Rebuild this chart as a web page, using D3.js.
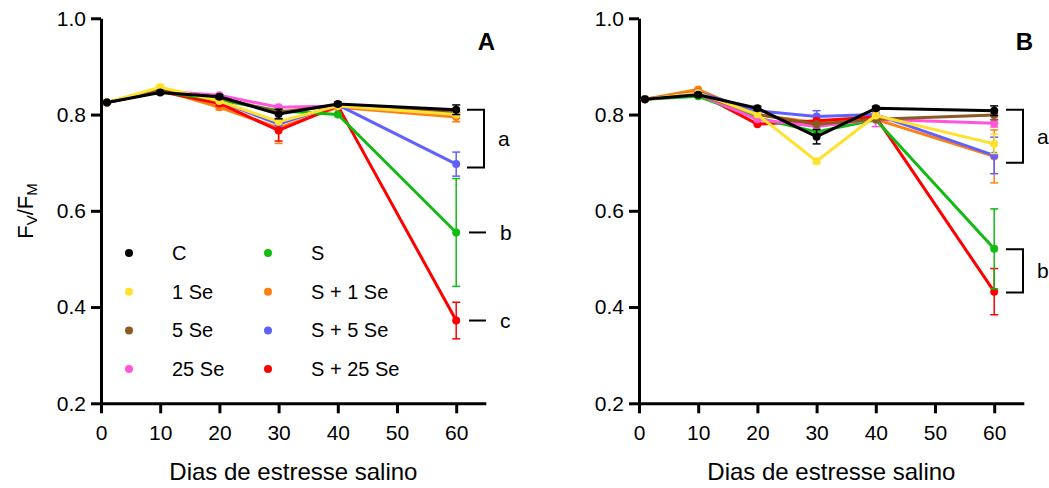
<!DOCTYPE html>
<html>
<head>
<meta charset="utf-8">
<script src="https://cdn.jsdelivr.net/npm/d3@7"></script>
<style>
  body { margin: 0; background: #fff; }
  svg { font-family: "Liberation Sans", Arial, sans-serif; }
</style>
</head>
<body>
<svg width="1049" height="488"></svg>
<script>
const days = [1, 10, 20, 30, 40, 60];
const xTicks = [0, 10, 20, 30, 40, 50, 60];
const yTicks = [0.2, 0.4, 0.6, 0.8, 1.0];

const series = ["C", "1 Se", "5 Se", "25 Se", "S", "S + 1 Se", "S + 5 Se", "S + 25 Se"];
const colors = ["#000000", "#ffe22e", "#8b5a22", "#ff55dd", "#11bb11", "#ff8010", "#6060ff", "#ff0000"];
// which series gets painted first (bottom) to last (top)
const drawOrder = [5, 6, 7, 4, 3, 2, 1, 0];

// panel A, one row per series (same order as "series")
const fvfmA = [
    [0.825, 0.846, 0.837, 0.801, 0.822, 0.810],
    [0.825, 0.857, 0.828, 0.785, 0.818, 0.800],
    [0.825, 0.850, 0.835, 0.805, 0.820, 0.805],
    [0.825, 0.849, 0.840, 0.815, 0.818, 0.800],
    [0.825, 0.848, 0.830, 0.808, 0.800, 0.555],
    [0.825, 0.852, 0.815, 0.772, 0.815, 0.795],
    [0.825, 0.850, 0.828, 0.780, 0.820, 0.697],
    [0.825, 0.848, 0.823, 0.767, 0.818, 0.372]
];
const errA = [
    [0, 0.004, 0.004, 0.010, 0.004, 0.010],
    [0, 0.004, 0, 0, 0, 0],
    [0, 0, 0, 0, 0, 0],
    [0, 0, 0, 0, 0, 0],
    [0, 0, 0, 0, 0, 0.112],
    [0, 0, 0.005, 0.032, 0, 0.010],
    [0, 0, 0, 0.012, 0, 0.025],
    [0, 0, 0.005, 0.022, 0, 0.038]
];

// panel B
const fvfmB = [
    [0.832, 0.841, 0.813, 0.754, 0.813, 0.808],
    [0.832, 0.845, 0.800, 0.703, 0.798, 0.739],
    [0.832, 0.843, 0.800, 0.780, 0.790, 0.799],
    [0.832, 0.842, 0.790, 0.775, 0.790, 0.782],
    [0.832, 0.838, 0.793, 0.764, 0.789, 0.521],
    [0.832, 0.852, 0.800, 0.783, 0.790, 0.713],
    [0.832, 0.846, 0.808, 0.796, 0.800, 0.715],
    [0.832, 0.845, 0.780, 0.787, 0.795, 0.432]
];
const errB = [
    [0, 0.004, 0.004, 0.015, 0.004, 0.010],
    [0, 0, 0, 0.005, 0, 0.020],
    [0, 0, 0, 0, 0, 0.010],
    [0, 0, 0, 0, 0.015, 0.008],
    [0, 0, 0, 0, 0, 0.083],
    [0, 0, 0, 0, 0, 0.055],
    [0, 0, 0, 0.012, 0, 0.038],
    [0, 0, 0, 0, 0, 0.048]
];

const svg = d3.select("svg");

function drawPanel(x0, values, errors, label) {
    const x = d3.scaleLinear().domain([0, 65]).range([x0, x0 + 65 * 5.92]);
    const y = d3.scaleLinear().domain([0.2, 1.0]).range([403.3, 18.3]);
    const g = svg.append("g");

    // axes
    const yAxis = g.append("g")
        .attr("transform", `translate(${x0},0)`)
        .call(d3.axisLeft(y).tickValues(yTicks).tickFormat(d3.format(".1f"))
            .tickSize(10).tickSizeOuter(0).tickPadding(5));
    const xAxis = g.append("g")
        .attr("transform", `translate(0,${y(0.2)})`)
        .call(d3.axisBottom(x).tickValues(xTicks).tickSize(10).tickSizeOuter(0).tickPadding(12));
    [xAxis, yAxis].forEach(a => {
        a.select(".domain").attr("stroke-width", 3);
        a.selectAll(".tick line").attr("stroke-width", 3);
        a.selectAll("text").attr("font-size", 21).attr("fill", "#000");
    });

    g.append("text")
        .attr("x", x(32.5)).attr("y", 480)
        .attr("text-anchor", "middle").attr("font-size", 24)
        .text("Dias de estresse salino");

    g.append("text")
        .attr("x", x(65) + 0.5).attr("y", 50)
        .attr("text-anchor", "middle").attr("font-size", 24).attr("font-weight", "bold")
        .text(label);

    const line = d3.line().x((d, i) => x(days[i])).y(d => y(d));
    drawOrder.forEach(s => {
        const sg = g.append("g");
        sg.append("path")
            .datum(values[s])
            .attr("d", line)
            .attr("fill", "none")
            .attr("stroke", colors[s])
            .attr("stroke-width", 3)
            .attr("stroke-linejoin", "round");
        values[s].forEach((v, i) => {
            const e = errors[s][i];
            if (e > 0) {
                const cx = x(days[i]);
                sg.append("line")
                    .attr("x1", cx).attr("x2", cx)
                    .attr("y1", y(v - e)).attr("y2", y(v + e))
                    .attr("stroke", colors[s]).attr("stroke-width", 1.5);
                [v - e, v + e].forEach(t => {
                    sg.append("line")
                        .attr("x1", cx - 4).attr("x2", cx + 4)
                        .attr("y1", y(t)).attr("y2", y(t))
                        .attr("stroke", colors[s]).attr("stroke-width", 1.5);
                });
            }
        });
        sg.selectAll("circle")
            .data(values[s])
            .enter().append("circle")
            .attr("cx", (d, i) => x(days[i]))
            .attr("cy", d => y(d))
            .attr("r", 4)
            .attr("fill", colors[s]);
    });
    return { x, y, g };
}

function bracket(g, xr, yTop, yBot, letter) {
    g.append("path")
        .attr("d", `M${xr - 17},${yTop}H${xr}V${yBot}H${xr - 17}`)
        .attr("fill", "none").attr("stroke", "#000").attr("stroke-width", 2);
    g.append("text")
        .attr("x", xr + 14).attr("y", (yTop + yBot) / 2)
        .attr("dominant-baseline", "central").attr("font-size", 21)
        .text(letter);
}

function dashLabel(g, xr, yc, letter) {
    g.append("line")
        .attr("x1", xr - 17).attr("x2", xr).attr("y1", yc).attr("y2", yc)
        .attr("stroke", "#000").attr("stroke-width", 2);
    g.append("text")
        .attr("x", xr + 14).attr("y", yc)
        .attr("dominant-baseline", "central").attr("font-size", 21)
        .text(letter);
}

const pA = drawPanel(101, fvfmA, errA, "A");
const pB = drawPanel(639, fvfmB, errB, "B");

// significance letters
bracket(pA.g, 484, pA.y(0.81), pA.y(0.69), "a");
dashLabel(pA.g, 486, pA.y(0.555), "b");
dashLabel(pA.g, 486, pA.y(0.372), "c");
bracket(pB.g, 1023, pB.y(0.81), pB.y(0.70), "a");
bracket(pB.g, 1023, pB.y(0.52), pB.y(0.43), "b");

// y title
const yt = svg.append("text")
    .attr("transform", "translate(33,211) rotate(-90)")
    .attr("text-anchor", "middle").attr("font-size", 22);
yt.append("tspan").text("F");
yt.append("tspan").text("V").attr("font-size", 15).attr("dy", 4);
yt.append("tspan").text("/F").attr("dy", -4);
yt.append("tspan").text("M").attr("font-size", 15).attr("dy", 4);

// legend
const legend = svg.append("g");
series.forEach((name, i) => {
    const col = Math.floor(i / 4), row = i % 4;
    const lx = 129 + col * 139, ly = 253 + row * 38.7;
    legend.append("circle").attr("cx", lx).attr("cy", ly).attr("r", 4).attr("fill", colors[i]);
    legend.append("text")
        .attr("x", lx + 43).attr("y", ly)
        .attr("dominant-baseline", "central").attr("font-size", 20)
        .text(name);
});
</script>
</body>
</html>
